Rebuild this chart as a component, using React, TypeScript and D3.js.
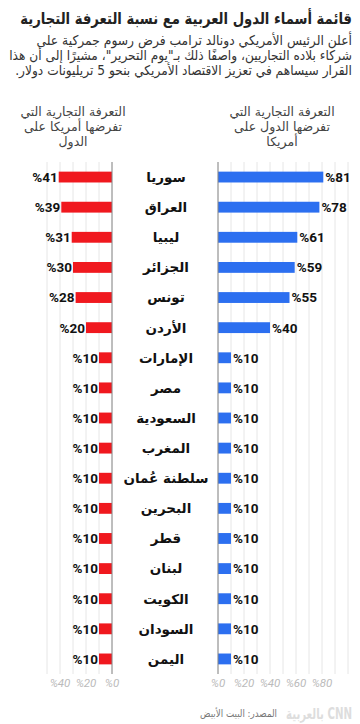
import React, { useLayoutEffect, useRef, useState } from "react";
import * as d3 from "d3";

const countries = ["سوريا", "العراق", "ليبيا", "الجزائر", "تونس", "الأردن", "الإمارات", "مصر", "السعودية", "المغرب", "سلطنة عُمان", "البحرين", "قطر", "لبنان", "الكويت", "السودان", "اليمن"];
const usTariffs = [41, 39, 31, 30, 28, 20, 10, 10, 10, 10, 10, 10, 10, 10, 10, 10, 10];
const countryTariffs = [81, 78, 61, 59, 55, 40, 10, 10, 10, 10, 10, 10, 10, 10, 10, 10, 10];
const leftTicks = [0, 20, 40];
const rightTicks = [0, 20, 40, 60, 80];
const leftGrid = [0, 10, 20, 30, 40, 50];
const rightGrid = [0, 10, 20, 30, 40, 50, 60, 70, 80, 90, 100];

const title = "قائمة أسماء الدول العربية مع نسبة التعرفة التجارية";
const subtitle = [
  "أعلن الرئيس الأمريكي دونالد ترامب فرض رسوم جمركية على",
  "شركاء بلاده التجاريين، واصفًا ذلك بـ\"يوم التحرير\"، مشيرًا إلى أن هذا",
  "القرار سيساهم في تعزيز الاقتصاد الأمريكي بنحو 5 تريليونات دولار.",
];
const subtitleWidths = [316, 343, 337];
const leftHeader = ["التعرفة التجارية التي", "تفرضها أمريكا على", "الدول"];
const rightHeader = ["التعرفة التجارية التي", "تفرضها الدول على", "أمريكا"];
const source = "المصدر: البيت الأبيض";
const logo = "بالعربية CNN";

const W = 360;
const H = 724;
const top = 162;
const bottom = 674;
const arFont = "'DejaVu Sans', sans-serif";
const numFont = "Roboto, 'Liberation Sans', sans-serif";

function FitText(props: { x: number; y: number; width: number; rtl?: boolean; children: React.ReactNode; [k: string]: any }) {
  const { x, y, width, rtl, children, ...rest } = props;
  const ref = useRef<SVGTextElement>(null);
  const [s, setS] = useState(1);
  useLayoutEffect(() => {
    if (ref.current) {
      const len = ref.current.getComputedTextLength();
      if (len > 0) setS(width / len);
    }
  }, [width]);
  return (
    <g transform={`translate(${x},${y}) scale(${s},1)`}>
      <text ref={ref} x={0} y={0} direction={rtl ? "rtl" : undefined} textAnchor={rtl ? "start" : "end"} {...rest}>
        {children}
      </text>
    </g>
  );
}

export default function App() {
  const y = d3.scaleBand<string>().domain(countries).range([top, bottom]).paddingInner(0.64).paddingOuter(0.32);
  const xl = d3.scaleLinear().domain([0, 50]).range([112, 47]);
  const xr = d3.scaleLinear().domain([0, 100]).range([218, 348]);
  const bh = y.bandwidth();
  const red = "#f0181e";
  const blue = "#2c6ff0";

  return (
    <svg width={W} height={H} style={{ position: "absolute", left: 0, top: 0, background: "#fff" }}>
      <FitText x={352} y={24} width={332} rtl fontFamily={arFont} fontWeight="bold" fontSize={16} fill="#222">
        {title}
      </FitText>
      {subtitle.map((s, i) => (
        <FitText key={i} x={352} y={45 + i * 14.8} width={subtitleWidths[i]} rtl fontFamily={arFont} fontSize={13.5} fill="#333">
          {s}
        </FitText>
      ))}
      {leftHeader.map((s, i) => (
        <text key={"lh" + i} x={73} y={116 + i * 15} textAnchor="middle" fontFamily={arFont} fontSize={12.5} fill="#444">
          {s}
        </text>
      ))}
      {rightHeader.map((s, i) => (
        <text key={"rh" + i} x={282} y={116 + i * 15} textAnchor="middle" fontFamily={arFont} fontSize={12.5} fill="#444">
          {s}
        </text>
      ))}

      {leftGrid.map((t) => (
        <line key={"lg" + t} x1={xl(t)} x2={xl(t)} y1={top} y2={bottom} stroke="#e6e6e6" strokeWidth={1} />
      ))}
      {rightGrid.map((t) => (
        <line key={"rg" + t} x1={xr(t)} x2={xr(t)} y1={top} y2={bottom} stroke="#e6e6e6" strokeWidth={1} />
      ))}

      {countries.map((c, i) => {
        const cy = (y(c) ?? 0) + bh / 2;
        return (
          <g key={c}>
            <rect x={xl(usTariffs[i])} y={cy - bh / 2} width={xl(0) - xl(usTariffs[i])} height={bh} fill={red} />
            <rect x={xr(0)} y={cy - bh / 2} width={xr(countryTariffs[i]) - xr(0)} height={bh} fill={blue} />
            <text x={xl(usTariffs[i]) - 1} y={cy} dy="0.36em" textAnchor="end" fontFamily={numFont} fontWeight="bold" fontSize={13.5} fill="#111">
              {"%" + usTariffs[i]}
            </text>
            <text x={xr(countryTariffs[i]) + 2} y={cy} dy="0.36em" textAnchor="start" fontFamily={numFont} fontWeight="bold" fontSize={13.5} fill="#111">
              {"%" + countryTariffs[i]}
            </text>
            <text x={166} y={cy} dy="0.36em" textAnchor="middle" fontFamily={arFont} fontWeight="bold" fontSize={13.5} fill="#111">
              {c}
            </text>
          </g>
        );
      })}

      <line x1={xl(0)} x2={xl(0)} y1={top} y2={bottom} stroke="#888" strokeWidth={1} />
      <line x1={xr(0)} x2={xr(0)} y1={top} y2={bottom} stroke="#888" strokeWidth={1} />

      {leftTicks.map((t) => (
        <text key={"lt" + t} x={xl(t)} y={687} textAnchor="middle" fontFamily={numFont} fontStyle="italic" fontSize={11.5} fill="#bbb">
          {"%" + t}
        </text>
      ))}
      {rightTicks.map((t) => (
        <text key={"rt" + t} x={xr(t)} y={687} textAnchor="middle" fontFamily={numFont} fontStyle="italic" fontSize={11.5} fill="#bbb">
          {"%" + t}
        </text>
      ))}

      <FitText x={277} y={717} width={77} rtl fontFamily={arFont} fontSize={10} fill="#777">
        {source}
      </FitText>
      <FitText x={352} y={719} width={66} fontFamily={arFont} fontWeight="bold" fontSize={15} fill="#ddd">
        {logo}
      </FitText>
    </svg>
  );
}
